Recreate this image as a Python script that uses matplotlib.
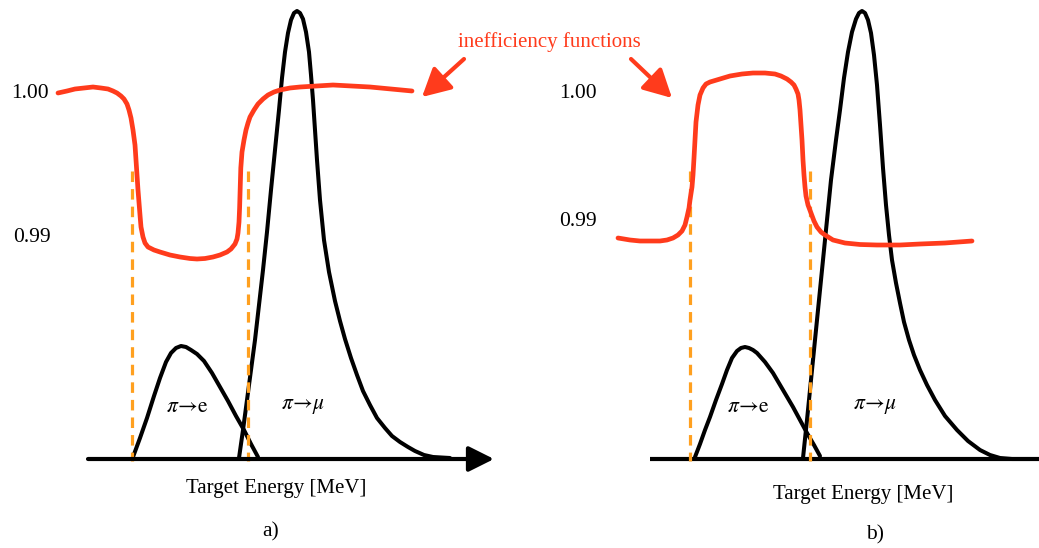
import matplotlib
matplotlib.use("Agg")
import matplotlib.pyplot as plt

plt.rcParams["font.family"] = ["Liberation Serif", "DejaVu Serif"]
plt.rcParams["mathtext.fontset"] = "stix"

RED = "#ff3b1c"
ORANGE = "#ffa01f"
BLACK = "#000000"

# ---- panel a) -------------------------------------------------------------
ineff_a_x = [58, 67, 75, 84, 93, 101, 108, 113, 117, 121, 124, 127, 129, 131,
             133, 135, 136, 138, 140, 141, 143, 145, 148, 154, 160, 170, 180,
             190, 197, 205, 213, 220, 227, 231, 235, 237, 238, 239, 239.6, 240.2,
             240.8, 242, 244, 246, 248, 250, 254, 258, 263, 268, 274, 280, 290,
             300, 333, 370, 412]
ineff_a_y = [93, 91, 89, 88, 87, 88, 89, 91, 93, 96, 99, 104, 110, 118,
             130, 145, 160, 190, 215, 227, 237, 243, 247, 250, 252, 255, 257,
             258.5, 259, 258.5, 257, 255, 252, 249, 244, 239, 233, 222, 208, 188,
             168, 152, 140, 130, 123, 117, 110, 104, 99, 95, 92, 90, 88,
             87, 85, 87, 91]

pie_a_x = [133, 140, 147, 154, 160, 166, 171, 176, 181, 186, 191, 197, 204,
           212, 220, 228, 236, 244, 251, 258]
pie_a_y = [457, 438, 418, 396, 378, 362, 353, 348, 346, 347, 350, 354, 361,
           373, 387, 401, 416, 430, 444, 457]

pimu_a_x = [239, 243, 247, 251, 255, 259, 263, 267, 271, 275, 279, 282, 285,
            288, 291, 294, 297, 300, 303, 306, 309, 311, 313, 315, 317, 320,
            324, 329, 335, 340, 345, 351, 357, 363, 370, 377, 385, 392, 400,
            408, 415, 424, 433, 450]
pimu_a_y = [458, 430, 400, 370, 340, 305, 270, 232, 190, 150, 110, 78, 52,
            33, 20, 13, 11, 13, 19, 32, 52, 75, 100, 130, 160, 200,
            240, 272, 301, 321, 339, 358, 375, 391, 405, 418, 428, 436, 442,
            447, 451, 455, 457, 458]

cuts_a_x = [132, 248]

# ---- panel b) -------------------------------------------------------------
ineff_b_x = [618, 630, 640, 650, 660, 667, 673, 678, 682, 685, 687, 689, 690,
             692, 693, 694, 695, 696, 698, 700, 703, 706, 710, 720, 730, 742,
             753, 765, 775, 781, 787, 791, 794, 796, 798, 799, 800, 801, 802,
             803, 804, 805, 806, 808, 811, 814, 817, 821, 825, 833, 845, 860,
             877, 900, 920, 945, 972]
ineff_b_y = [238, 240, 241, 241, 241, 240, 238, 235, 231, 225, 217, 208, 200,
             187, 175, 158, 140, 122, 105, 95, 88, 84, 82, 79, 76, 74,
             73, 73, 74, 76, 79, 82, 85, 89, 94, 100, 110, 125, 140,
             160, 175, 187, 196, 205, 213, 221, 227, 232, 235, 240, 243, 244.5,
             245, 245, 244, 243, 241]

pie_b_x = [695, 700, 705, 710, 716, 722, 727, 732, 737, 741, 745, 749, 753,
           757, 765, 773, 783, 793, 800, 807, 814, 820]
pie_b_y = [457, 444, 430, 417, 400, 384, 370, 358, 351, 348, 347, 348, 350,
           353, 362, 373, 390, 407, 420, 433, 445, 456]

pimu_b_x = [803, 807, 811, 815, 819, 823, 827, 831, 836, 840, 844, 848, 852,
            856, 859, 862, 865, 868, 871, 874, 877, 880, 883, 886, 889, 892,
            896, 900, 904, 909, 914, 920, 927, 935, 945, 957, 968, 980, 990,
            1000, 1012, 1030]
pimu_b_y = [458, 420, 380, 340, 300, 260, 220, 180, 140, 110, 78, 52, 32,
            19, 13, 11, 13, 20, 33, 55, 85, 125, 168, 205, 235, 260,
            283, 303, 322, 340, 355, 370, 385, 400, 416, 430, 441, 450, 455,
            458, 459, 459]

cuts_b_x = [690, 810]

AXIS_Y = 459
cut_top = 171

fig = plt.figure(figsize=(10.39, 5.48), dpi=100)
ax = fig.add_axes([0, 0, 1, 1])
ax.set_xlim(0, 1039)
ax.set_ylim(548, 0)
ax.axis("off")

# energy axes
ax.annotate("", xy=(494, AXIS_Y), xytext=(88, AXIS_Y),
            arrowprops=dict(arrowstyle="-|>,head_length=0.7,head_width=0.35",
                            lw=3, color=BLACK, mutation_scale=22,
                            shrinkA=0, shrinkB=0))
ax.plot([650, 1039], [AXIS_Y, AXIS_Y], color=BLACK, lw=3,
        solid_capstyle="butt")

# spectra
for xs, ys in [(pie_a_x, pie_a_y), (pimu_a_x, pimu_a_y),
               (pie_b_x, pie_b_y), (pimu_b_x, pimu_b_y)]:
    ax.plot(xs, ys, color=BLACK, lw=2.9, solid_joinstyle="round",
            solid_capstyle="round")

# cut positions
for xc in cuts_a_x + cuts_b_x:
    ax.plot([xc, xc], [cut_top, AXIS_Y + 2], color=ORANGE, lw=2.3,
            dashes=(3.3, 2.2))

# inefficiency functions
for xs, ys in [(ineff_a_x, ineff_a_y), (ineff_b_x, ineff_b_y)]:
    ax.plot(xs, ys, color=RED, lw=3.4, solid_joinstyle="round",
            solid_capstyle="round")

# labels
tick_labels = ["1.00", "0.99"]
tick_x_a = [30, 32]
tick_y_a = [93, 238]
tick_y_b = [93, 221]
for lab, xa, ya in zip(tick_labels, tick_x_a, tick_y_a):
    ax.text(xa, ya, lab, fontsize=15.5, ha="center", va="center")
for lab, yb in zip(tick_labels, tick_y_b):
    ax.text(578, yb, lab, fontsize=15.5, ha="center", va="center")

ax.text(187, 407, r"$\pi\!\rightarrow\!\mathrm{e}$", fontsize=15.5,
        ha="center", va="center")
ax.text(303, 407, r"$\pi\!\rightarrow\!\mu$", fontsize=15.5,
        ha="center", va="center")
ax.text(748, 407, r"$\pi\!\rightarrow\!\mathrm{e}$", fontsize=15.5,
        ha="center", va="center")
ax.text(875, 407, r"$\pi\!\rightarrow\!\mu$", fontsize=15.5,
        ha="center", va="center")

ax.text(276, 489, "Target Energy [MeV]", fontsize=15, ha="center", va="center")
ax.text(863, 494, "Target Energy [MeV]", fontsize=15, ha="center", va="center")
ax.text(271, 532, "a)", fontsize=15.5, ha="center", va="center")
ax.text(875, 535, "b)", fontsize=15.5, ha="center", va="center")

ax.text(549, 42, "inefficiency functions", fontsize=15, color=RED,
        ha="center", va="center")
ax.annotate("", xy=(422, 97), xytext=(464, 59),
            arrowprops=dict(arrowstyle="-|>,head_length=0.85,head_width=0.45",
                            lw=3, color=RED, mutation_scale=20,
                            shrinkA=0, shrinkB=0))
ax.annotate("", xy=(672, 98), xytext=(631, 59),
            arrowprops=dict(arrowstyle="-|>,head_length=0.85,head_width=0.45",
                            lw=3, color=RED, mutation_scale=20,
                            shrinkA=0, shrinkB=0))

fig.savefig("out.png", dpi=100)
